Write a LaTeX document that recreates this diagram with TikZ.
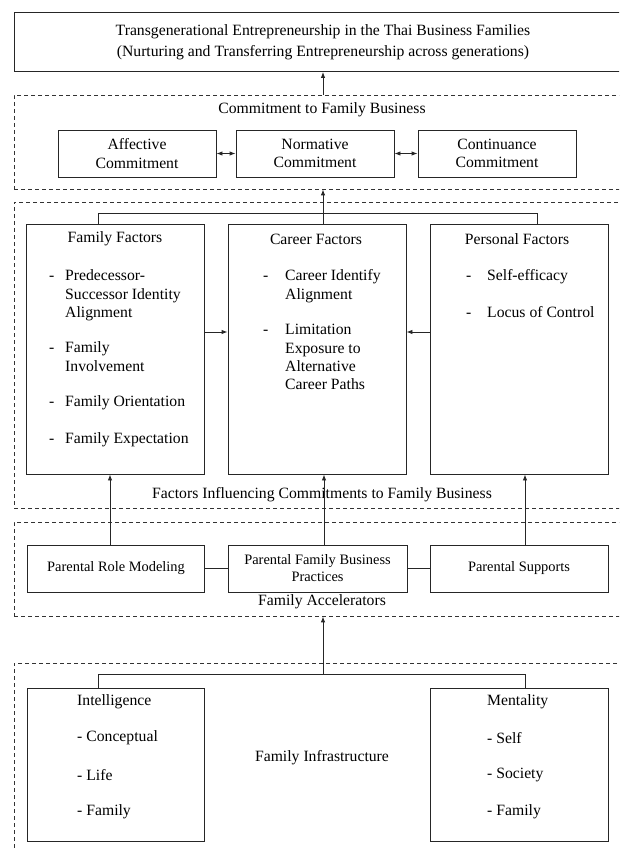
\documentclass[tikz,border=0pt]{standalone}
\usepackage{fontspec}
\setmainfont{Liberation Serif}
\usetikzlibrary{arrows.meta}

\newcommand{\mainsize}{\fontsize{15.7}{18.5}\selectfont}
\newcommand{\itemsize}{\fontsize{15.7}{18.2}\selectfont}
\newcommand{\lowsize}{\fontsize{14.4}{17}\selectfont}

\tikzset{
  >={Latex[length=6pt,width=4.5pt]},
  box/.style={draw=black!85, line width=0.9pt, inner sep=0pt, font=\mainsize},
  group/.style={draw=black!80, dash pattern=on 4pt off 3pt, line width=0.8pt, inner sep=0pt},
  lbl/.style={inner sep=0pt, font=\mainsize},
  itm/.style={inner sep=0pt, anchor=west, align=left, font=\mainsize},
  listitm/.style={inner sep=0pt, anchor=north west, align=left, font=\itemsize},
  link/.style={draw=black!85, line width=0.9pt},
}

\begin{document}
\begin{tikzpicture}[x=1pt, y=-1pt]
\useasboundingbox (0,0) rectangle (619,848);
\clip (0,0) rectangle (619,848);

% Outcome
\node[box, minimum width=618pt, minimum height=59pt, align=center] (goal) at (323,42)
  {Transgenerational Entrepreneurship in the Thai Business Families\\[2pt]
   (Nurturing and Transferring Entrepreneurship across generations)};

% Commitment to family business
\node[group, minimum width=618pt, minimum height=94pt] (commit) at (323,142) {};
\node[lbl] (commitlbl) at (322,110) {Commitment to Family Business};
\node[box, minimum width=158pt, minimum height=47pt, align=center] (aff) at (137,153.5) {Affective\\Commitment};
\node[box, minimum width=158pt, minimum height=47pt, align=center] (norm) at (315,153.5) {Normative\\Commitment};
\node[box, minimum width=158pt, minimum height=47pt, align=center] (cont) at (497,153.5) {Continuance\\Commitment};

% Factors influencing commitments
\node[group, minimum width=618pt, minimum height=306pt] (factors) at (323,355) {};
\node[box, minimum width=178pt, minimum height=250pt] (famf) at (115,349) {};
\node[box, minimum width=178pt, minimum height=250pt] (carf) at (317,349) {};
\node[box, minimum width=178pt, minimum height=250pt] (perf) at (519,349) {};
\node[lbl] (famft) at (115,239) {Family Factors};
\node[lbl] (carft) at (316,239) {Career Factors};
\node[lbl] (perft) at (517,239) {Personal Factors};
\node[lbl] (factorslbl) at (322,495) {Factors Influencing Commitments to Family Business};

% Family factors items
\node[listitm] (fd1) at (49,268) {\strut-};
\node[listitm] (f1) at (65,268) {\strut Predecessor-\\Successor Identity\\Alignment};
\node[listitm] (fd2) at (49,340) {\strut-};
\node[listitm] (f2) at (65,340) {\strut Family\\Involvement};
\node[listitm] (fd3) at (49,394) {\strut-};
\node[listitm] (f3) at (65,394) {\strut Family Orientation};
\node[listitm] (fd4) at (49,431) {\strut-};
\node[listitm] (f4) at (65,431) {\strut Family Expectation};

% Career factors items
\node[listitm] (cd1) at (263,268) {\strut-};
\node[listitm] (c1) at (285,268) {\strut Career Identify\\Alignment};
\node[listitm] (cd2) at (263,322) {\strut-};
\node[listitm] (c2) at (285,322) {\strut Limitation\\Exposure to\\Alternative\\Career Paths};

% Personal factors items
\node[listitm] (pd1) at (466,268) {\strut-};
\node[listitm] (p1) at (487,268) {\strut Self-efficacy};
\node[listitm] (pd2) at (466,305) {\strut-};
\node[listitm] (p2) at (487,305) {\strut Locus of Control};

% Family accelerators
\node[group, minimum width=618pt, minimum height=94pt] (accel) at (323,569) {};
\node[box, font=\lowsize, minimum width=177pt, minimum height=47pt] (role) at (116,568.5) {Parental Role Modeling};
\node[box, font=\lowsize, minimum width=179pt, minimum height=47pt, align=center] (prac) at (317.5,568.5) {Parental Family Business\\Practices};
\node[box, font=\lowsize, minimum width=178pt, minimum height=47pt] (supp) at (519,568.5) {Parental Supports};
\node[lbl] (accellbl) at (322,602) {Family Accelerators};

% Family infrastructure
\node[group, minimum width=618pt, minimum height=207pt] (infra) at (323,766.5) {};
\node[box, minimum width=177pt, minimum height=153pt] (intel) at (116,764.5) {};
\node[box, minimum width=178pt, minimum height=153pt] (ment) at (519,764.5) {};
\node[lbl] (infralbl) at (322,758) {Family Infrastructure};
\node[itm] (intelt) at (77,702) {Intelligence};
\node[itm] (i1) at (77,738) {- Conceptual};
\node[itm] (i2) at (77,775) {- Life};
\node[itm] (i3) at (77,812) {- Family};
\node[itm] (mentt) at (487,702) {Mentality};
\node[itm] (m1) at (487,738) {- Self};
\node[itm] (m2) at (487,775) {- Society};
\node[itm] (m3) at (487,812) {- Family};

% Junction points
\coordinate (jl) at (98,213);
\coordinate (jr) at (537,213);
\coordinate (midrow) at (0,332);
\coordinate (bl) at (98,674);
\coordinate (br) at (525,674);

% Connectors
\draw[link, ->] (commit.north) -- (goal.south);
\draw[link, <->] (aff.east) -- (norm.west);
\draw[link, <->] (norm.east) -- (cont.west);
\draw[link] (jl |- famf.north) -- (jl) -- (jr) -- (jr |- perf.north);
\draw[link, ->] (carf.north -| commit.south) -- (commit.south);
\draw[link, ->] (famf.east |- midrow) -- (carf.west |- midrow);
\draw[link, ->] (perf.west |- midrow) -- (carf.east |- midrow);
\draw[link, ->] ([xshift=-6pt]role.north) -- ([xshift=-6pt]role.north |- famf.south);
\draw[link, ->] ([xshift=6.5pt]prac.north) -- ([xshift=6.5pt]prac.north |- carf.south);
\draw[link, ->] ([xshift=6pt]supp.north) -- ([xshift=6pt]supp.north |- perf.south);
\draw[link] (role.east) -- (prac.west);
\draw[link] (prac.east) -- (supp.west);
\draw[link] (bl |- intel.north) -- (bl) -- (br) -- (br |- ment.north);
\draw[link, ->] (bl -| accel.south) -- (accel.south);
\end{tikzpicture}
\end{document}
